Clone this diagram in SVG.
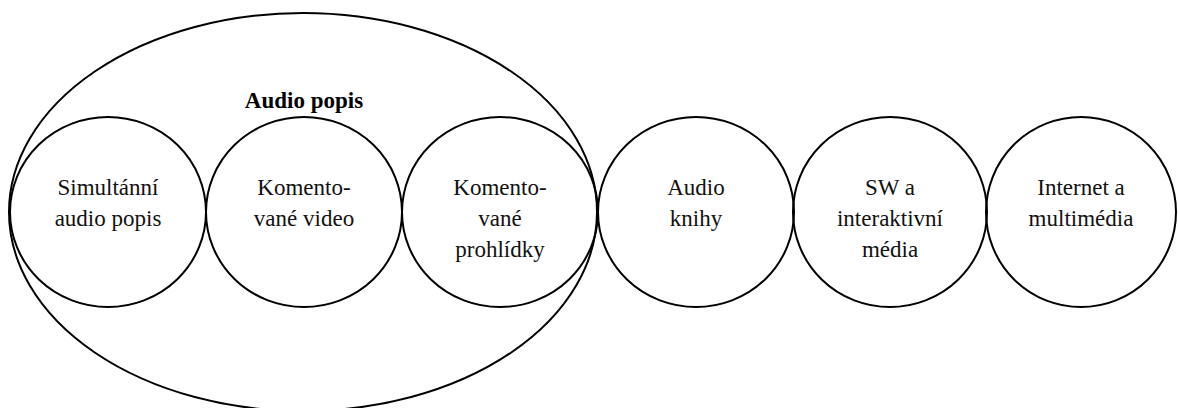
<svg xmlns="http://www.w3.org/2000/svg" width="1178" height="408" viewBox="0 0 1178 408">
  <style>
    .ring { fill: none; stroke: #000; stroke-width: 2; }
  </style>
  <rect width="1178" height="408" fill="#fff"/>

  <!-- grouping ellipse around the audio description types -->
  <g id="audio-popis">
    <ellipse class="ring" cx="303" cy="212" rx="294" ry="199"/>
    <text x="304" y="108" font-family="Liberation Serif" font-size="23" font-weight="bold" text-anchor="middle" fill="#000">Audio popis</text>
  </g>

  <g id="connectors"></g>

  <g id="simultanni">
    <ellipse class="ring" cx="108" cy="212" rx="98" ry="95"/>
    <text x="108" y="195" font-family="Liberation Serif" font-size="23" text-anchor="middle" fill="#111">Simultánní</text>
    <text x="108" y="226" font-family="Liberation Serif" font-size="23" text-anchor="middle" fill="#111">audio popis</text>
  </g>

  <g id="komentovane-video">
    <ellipse class="ring" cx="304" cy="212" rx="98" ry="95"/>
    <text x="304" y="195" font-family="Liberation Serif" font-size="23" text-anchor="middle" fill="#111">Komento-</text>
    <text x="304" y="226" font-family="Liberation Serif" font-size="23" text-anchor="middle" fill="#111">vané video</text>
  </g>

  <g id="komentovane-prohlidky">
    <ellipse class="ring" cx="500" cy="212" rx="98" ry="95"/>
    <text x="500" y="195" font-family="Liberation Serif" font-size="23" text-anchor="middle" fill="#111">Komento-</text>
    <text x="500" y="226" font-family="Liberation Serif" font-size="23" text-anchor="middle" fill="#111">vané</text>
    <text x="500" y="257" font-family="Liberation Serif" font-size="23" text-anchor="middle" fill="#111">prohlídky</text>
  </g>

  <g id="audio-knihy">
    <ellipse class="ring" cx="696" cy="212" rx="98" ry="95"/>
    <text x="696" y="195" font-family="Liberation Serif" font-size="23" text-anchor="middle" fill="#111">Audio</text>
    <text x="696" y="226" font-family="Liberation Serif" font-size="23" text-anchor="middle" fill="#111">knihy</text>
  </g>

  <g id="sw-media">
    <ellipse class="ring" cx="890" cy="212" rx="97" ry="95"/>
    <text x="890" y="195" font-family="Liberation Serif" font-size="23" text-anchor="middle" fill="#111">SW a</text>
    <text x="890" y="226" font-family="Liberation Serif" font-size="23" text-anchor="middle" fill="#111">interaktivní</text>
    <text x="890" y="257" font-family="Liberation Serif" font-size="23" text-anchor="middle" fill="#111">média</text>
  </g>

  <g id="internet">
    <ellipse class="ring" cx="1081" cy="212" rx="95" ry="95"/>
    <text x="1081" y="195" font-family="Liberation Serif" font-size="23" text-anchor="middle" fill="#111">Internet a</text>
    <text x="1081" y="226" font-family="Liberation Serif" font-size="23" text-anchor="middle" fill="#111">multimédia</text>
  </g>
</svg>
